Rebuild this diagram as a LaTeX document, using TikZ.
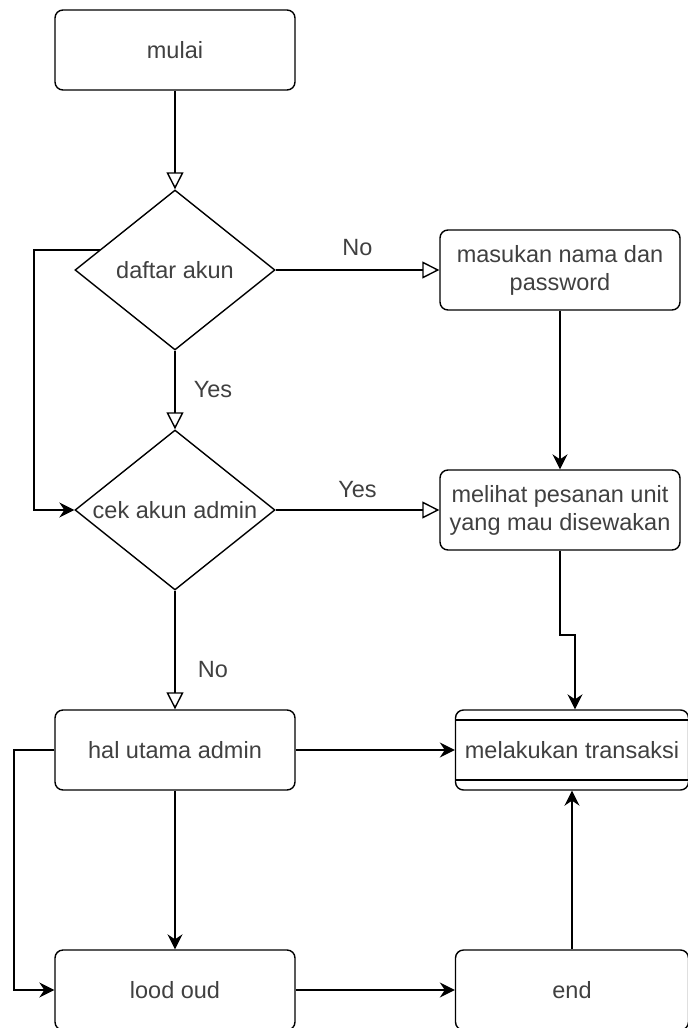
\documentclass[tikz,border=0pt]{standalone}
\usepackage{fontspec}
\setmainfont{Liberation Sans}
\usetikzlibrary{arrows.meta,shapes.geometric,positioning}
\tikzset{>={Stealth[length=15pt,width=15pt,inset=5pt]}}
\tikzset{
  box/.style={draw,rounded corners=8pt,minimum width=240pt,minimum height=80pt,align=center,inner sep=2pt},
  tbox/.style={box,minimum width=233pt,
    path picture={
      \draw[line width=1.4pt] ([yshift=-10pt]path picture bounding box.north west) -- ([yshift=-10pt]path picture bounding box.north east);
      \draw[line width=1.4pt] ([yshift=10pt]path picture bounding box.south west) -- ([yshift=10pt]path picture bounding box.south east);
    }},
  choice/.style={draw,diamond,minimum width=200pt,minimum height=160pt,inner sep=0pt,aspect=1.25},
  open/.style={-{Triangle[open,length=17pt,width=17pt]}},
}

\begin{document}
\begin{tikzpicture}[x=1pt,y=-1pt,line width=1.4pt,text=black!75,font=\fontsize{23.5}{28}\selectfont]
                \useasboundingbox (0,0) rectangle (688,1028);
                % left column
                \node[box] (mulai) at (175,50) {mulai};
                \node[choice] (daftar) at (175,270) {daftar akun};
                \node[choice] (cek) at (175,510) {cek akun admin};
                \node[box] (haladmin) at (175,750) {hal utama admin};
                \node[box] (lood) at (175,990) {lood oud};
                % right column
                \node[box] (masukan) at (560,270) {masukan nama dan\\password};
                \node[box] (melihat) at (560,510) {melihat pesanan unit\\yang mau disewakan};
                \node[tbox] (transaksi) at (572,750) {melakukan transaksi};
                \node[box,minimum width=233pt] (selesai) at (572,990) {end};

                \coordinate (loopa) at (100,250);
                \coordinate (loopb) at (34,250);
                \coordinate (loopc) at (14,750);
                \coordinate (jog) at (560,635);
                \coordinate (jogb) at (575,635);

                \draw[open] (mulai) -- (daftar);
                \draw[open] (daftar) -- node[xshift=38pt] {Yes} (cek);
                \draw[open] (daftar) -- node[yshift=22pt] {No} (masukan);
                \draw[open] (cek) -- node[yshift=20pt] {Yes} (melihat);
                \draw[open] (cek) -- node[xshift=38pt,yshift=-20pt] {No} (haladmin);
                \draw[->] (loopa) -- (loopb) |- (cek.west);
                \draw[->] (masukan) -- (melihat);
                \draw[->] (melihat.south) -- (jog) -- (jogb) -- (jogb |- transaksi.north);
                \draw[->] (haladmin) -- (transaksi);
                \draw[->] (haladmin) -- (lood);
                \draw[->] (haladmin.west) -- (loopc) |- (lood.west);
                \draw[->] (lood) -- (selesai);
                \draw[->] (selesai) -- (transaksi);
                \end{tikzpicture}
\end{document}
